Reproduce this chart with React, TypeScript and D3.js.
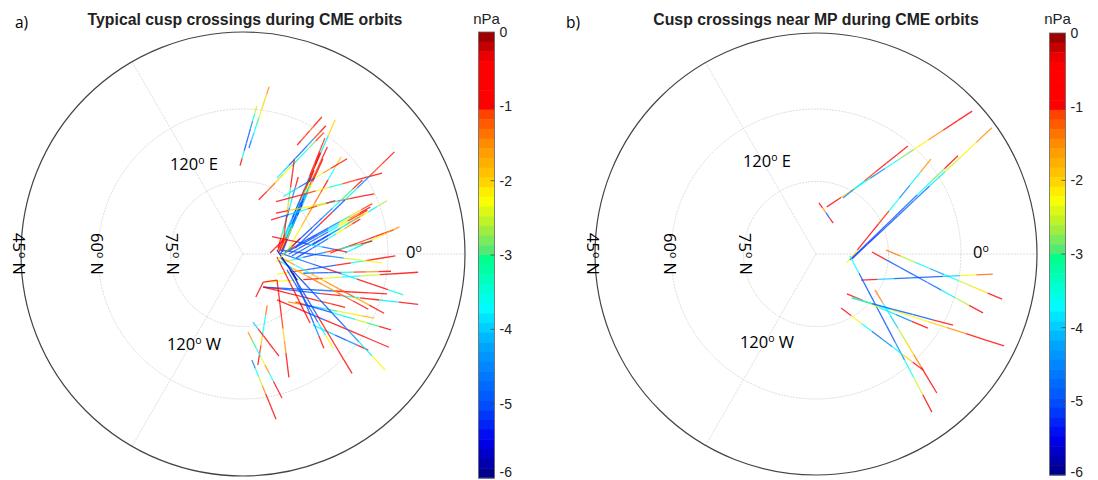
import * as d3 from 'd3'

// Tracks are in degrees of colatitude, projected: x toward 0 deg, y toward 90 deg E.
// Each row: x0, y0, x1, y1, then magnetic pressure change (nPa) read along the track.
type Track = [number, number, number, number, number[]]

const typicalTracks: Track[] = [
  [-0.6, 17.9, 2.8, 30.0, [-0.6, -3.5, -5, -5, -5, -4.5, -3.5, -2.5]],
  [1.2, 21.5, 5.3, 33.9, [-4.8, -4, -3.7, -3, -2.4, -2, -2, -1.5]],
  [11.0, 22.1, 16.0, 27.8, [-0.6, -1, -0.7, -1.2, -0.8, -0.5]],
  [6.9, 15.4, 16.8, 26.0, [-3.7, -4, -5, -5, -5, -4.5, -1, -0.6]],
  [3.2, 11.0, 16.4, 24.6, [-0.5, -1.2, -2, -2.3, -3.2, -3.7, -2.8, -1]],
  [7.7, 0.2, 13.2, 13.0, [-5, -5, -4, -5, -5.2, -4]],
  [7.3, 0.4, 16.6, 23.5, [-0.7, -3.8, -5, -3, -5, -4, -0.8, -0.6, -1]],
  [7.8, 0.6, 15.6, 20.5, [-2.5, -5, -4, -5, -3.7, -0.7, -2.8, -0.7]],
  [8.0, 0.4, 14.4, 17.0, [-5, -4.5, -5, -3.7, -5, -2.3, -0.8]],
  [7.1, 0.8, 18.7, 27.2, [-0.8, -4, -5, -1, -0.7, -0.6, -3.8, -2]],
  [7.5, 0.8, 17.1, 21.7, [-1, -3.5, -5, -5, -4, -1, -1, -0.6]],
  [7.9, 0.8, 16.2, 19.3, [-0.6, -2.5, -4, -5, -4, -2.5, -0.8, -0.6]],
  [7.1, 1.2, 11.2, 15.6, [-0.8, -3, -4, -4.8, -3.8, -4.5, -0.8]],
  [8.1, 2.2, 10.4, 19.1, [-1, -0.5, -2, -3, -0.8, -0.6]],
  [9.1, 0.8, 19.9, 19.7, [-2.3, -2.2, -1.8, -1.5, -1.3, -0.7, -3.7, -2]],
  [8.1, 11.6, 21.1, 19.3, [-3.7, -4, -5, -4.8, -2.3, -1.5, -0.7, -0.6]],
  [6.7, 10.6, 28.2, 16.4, [-0.6, -0.7, -1, -2.3, -3.5, -1, -0.7, -0.5]],
  [6.7, 8.3, 26.6, 12.2, [-0.6, -2, -2.3, -2.6, -3.7, -1, -0.6, -0.5]],
  [5.7, 6.9, 18.7, 10.8, [-0.7, -5, -4, -3.7, -1, -2, -0.8]],
  [10.6, 1.2, 30.7, 20.7, [-5, -5, -0.8, -5, -3.5, -4.5, -1, -0.7]],
  [8.1, -0.2, 24.2, 15.0, [-0.8, -5, -5.2, -5, -4.5, -3.7, -3, -0.8]],
  [8.5, 0.4, 26.2, 10.2, [-0.7, -5, -5.2, -5, -4.5, -3, -2, -1]],
  [8.9, 0.4, 25.8, 9.5, [-5, -5, -5, -4.5, -3.7, -2.4, -1.5, -0.8]],
  [9.3, 0.0, 25.2, 8.9, [-5, -5.2, -5, -5, -3.8, -2.3, -1, -0.7]],
  [9.9, -0.4, 24.6, 8.1, [-5, -5, -5.2, -4.6, -3.6, -2.6, -1.2, -0.7]],
  [10.8, -0.8, 23.8, 7.1, [-5.2, -5, -5, -4.8, -3.7, -2.2, -1.6, -0.8]],
  [14.0, 1.8, 29.2, 10.8, [-5, -5.2, -4.5, -3.7, -2.8, -2.3, -3.8, -2.6]],
  [17.7, 0.2, 30.5, 4.9, [-0.6, -0.8, -0.7, -1, -0.6, -0.7, -0.5]],
  [20.7, 0.2, 31.7, 5.5, [-3.7, -3.9, -3, -2.3, -2, -1.5]],
  [7.5, -1.8, 26.2, 2.6, [-2.5, -3.7, -5, -4.5, -1, -3.7, -3, -0.8]],
  [6.9, -4.1, 30.9, -0.4, [-2.3, -1, -5, -5, -0.8, -3.7, -0.8, -0.6]],
  [7.5, 0.8, 28.2, -1.8, [-5, -5, -5, -5, -4.5, -2.5, -2.3, -2.2]],
  [7.5, 0.2, 32.5, -8.3, [-5, -5, -5, -0.8, -3.8, -0.7, -0.8, -3.5]],
  [4.5, -5.7, 35.5, -3.7, [-2.3, -2.2, -0.7, -2.4, -3.7, -2.5, -0.8, -0.7]],
  [12.2, -3.9, 30.0, -3.5, [-5, -5, -4.8, -3.8, -1, -1.5, -0.8]],
  [4.1, -6.7, 35.5, -10.2, [-0.6, -5, -5, -0.8, -3.7, -0.8, -3.8, -0.7]],
  [4.1, -6.7, 29.2, -8.1, [-5, -5, -5, -4.8, -0.8, -0.7, -0.8]],
  [7.5, -0.6, 28.6, -12.0, [-1.5, -3.7, -1.8, -1.5, -1.2, -1.7, -0.7]],
  [6.9, -1.2, 25.4, -11.2, [-3.7, -1.8, -1.4, -1.6, -1.2, -0.6]],
  [4.1, -6.7, 20.7, -10.8, [-0.6, -0.7, -0.6, -0.8, -1, -0.7]],
  [9.1, -9.7, 26.6, -13.0, [-1.5, -5, -4, -3, -2.4, -2.1, -1.8]],
  [10.6, -9.7, 30.0, -15.4, [-1, -5, -5, -3.7, -3.8, -2.5, -3, -0.8]],
  [6.9, -9.3, 29.6, -18.9, [-0.6, -0.8, -5, -0.7, -0.6, -0.8, -0.7]],
  [14.2, -14.4, 25.4, -19.5, [-3.7, -4, -5, -4.5, -0.8]],
  [7.5, -0.6, 28.8, -23.5, [-5, -5.2, -5, -5, -5, -4.5, -3.8, -2.3]],
  [9.5, -3.2, 22.1, -24.2, [-5, -5, -5, -0.8, -0.6, -0.7, -0.5]],
  [8.9, -3.2, 18.3, -19.1, [-5, -5, -5, -4.8, -3.8, -2.3]],
  [10.2, -3.9, 16.4, -19.1, [-5, -5, -5, -5, -4.5, -0.7]],
  [6.9, -0.6, 13.6, -14.0, [-0.7, -0.6, -0.8, -0.6, -0.7]],
  [6.9, -5.3, 9.3, -25.0, [-0.6, -0.7, -0.6, -1, -2, -1.5, -0.7, -0.6]],
  [4.9, -10.4, 3.0, -22.5, [-1.3, -3.5, -3.7, -2, -1, -0.7]],
  [2.0, -13.8, 7.3, -20.7, [-4, -0.8, -0.7, -0.8, -0.6]],
  [1.0, -15.8, 7.9, -29.2, [-1.5, -3, -3.7, -2.2, -1.5, -3.7, -0.8, -0.6]],
  [1.8, -21.5, 6.7, -33.5, [-4.5, -3.7, -2.5, -1.5, -0.8, -0.7, -0.5]],
  [4.1, -5.7, 2.6, -8.7, [-0.5, -0.7, -0.6]],
  [4.1, -5.7, 6.9, -5.3, [-0.6, -0.7]],
  [5.9, 3.5, 21.1, 0.4, [-0.7, -0.8, -5, -3.8, -4.8, -0.8]],
  [6.9, 0.8, 11.0, -5.3, [-5.8, -5.7, -5.9]],
  [8.1, 2.8, 5.5, 0.2, [-0.6, -0.7, -0.5]],
  [6.7, -1.6, 11.6, 3.2, [-2.3, -3, -0.8]],
]

const nearMpTracks: Track[] = [
  [2.2, 9.6, 31.8, 29.1, [-0.7, -2, -3.7, -4.5, -3.7, -2.8, -2.2, -1.5, -0.9, -0.7]],
  [5.5, 11.4, 18.7, 22.0, [-4.5, -3.8, -1, -0.7, -0.8, -0.6]],
  [0.6, 10.4, 3.5, 6.3, [-0.7, -1.5, -5, -0.7]],
  [6.3, -1.8, 23.4, 19.3, [-2.2, -0.8, -0.7, -1, -3.7, -4.5, -3.8, -1.5]],
  [6.9, -1.2, 28.9, 20.0, [-5, -5, -5, -5, -4.8, -3.7, -2.8, -0.8]],
  [7.3, -1.0, 35.8, 25.7, [-5.2, -5.2, -5, -5, -4.8, -3.8, -2.5, -2.2, -1.5]],
  [11.4, 0.4, 34.0, -12.0, [-0.7, -5, -5, -4.8, -4.8, -3.8, -2.6, -0.8]],
  [14.3, 0.8, 37.9, -9.2, [-1.4, -2.6, -3.6, -4.3, -3.7, -2.5, -2.1, -0.8]],
  [9.2, -5.3, 36.0, -4.1, [-0.8, -4, -5, -5, -5, -4, -2.2, -1.3]],
  [6.9, -0.4, 23.6, -32.2, [-3.7, -5, -5, -5, -5, -4.5, -3.7, -2.5, -0.8]],
  [12.0, -7.3, 24.6, -28.3, [-1.4, -3.7, -4, -2.6, -2, -1.4, -0.8, -0.6]],
  [6.3, -8.1, 22.8, -15.1, [-0.7, -2.2, -3.8, -4.5, -0.7]],
  [7.3, -8.8, 38.3, -18.7, [-2.8, -3.7, -2.4, -2.2, -2, -1.5, -0.8, -0.6]],
  [7.3, -9.0, 27.9, -14.5, [-3.8, -5, -5, -5, -0.8]],
  [5.1, -11.0, 21.8, -23.6, [-0.7, -2.2, -3.7, -4.8, -4.5, -3.7, -2, -0.7]],
]

const latitudeRings = [75, 60, 45]
const spokeLongitudes = [0, 120, -120]
const colorTicks = [0, -1, -2, -3, -4, -5, -6]

const jetDomain = [0, -0.4, -0.98, -1, -1.5, -2, -2.25, -2.6, -2.95, -3.05, -3.7, -4.2, -5, -5.5, -6]
const jetColors = [
  '#8b0000', '#ff0000', '#ff0000', '#ff3000', '#ff8c00', '#ffd000', '#ffff00', '#b4f030',
  '#50e878', '#00ff88', '#00ffff', '#00a8ff', '#0050ff', '#0000f0', '#000080',
]
const color = d3.scaleLinear<string>().domain(jetDomain).range(jetColors)

const labelFont = '"Open Sans", sans-serif'
const sansFont = '"Liberation Sans", Arial, sans-serif'
const colorSteps = d3.range(46)

function Degree({ x, y, label, suffix }: { x: number; y: number; label: string; suffix: string }) {
  return (
    <text x={x} y={y} fontFamily={labelFont} fontSize={16.5} fill="#000" textAnchor="middle" dominantBaseline="middle">
      {label}
      <tspan fontSize={10.5} dy={-5}>o</tspan>
      <tspan dy={5}>{suffix}</tspan>
    </text>
  )
}

type PanelProps = {
  letter: string
  letterX: number
  title: string
  titleX: number
  tracks: Track[]
  cx: number
  cy: number
  radius: number
  barX: number
  barTop: number
  barBottom: number
  eastLabelY: number
  westLabelY: number
  zeroX: number
}

function Panel(p: PanelProps) {
  const xScale = d3.scaleLinear().domain([-45, 45]).range([p.cx - p.radius, p.cx + p.radius])
  const yScale = d3.scaleLinear().domain([-45, 45]).range([p.cy + p.radius, p.cy - p.radius])
  const ringRadius = d3.scaleLinear().domain([90, 60, 45]).range([0, 145, p.radius])
  const barY = d3.scaleLinear().domain([0, -6]).range([p.barTop, p.barBottom])
  const barWidth = 16
  const stepValue = d3.scaleLinear().domain([0, colorSteps.length]).range([0, -6])

  return (
    <g>
      <text x={p.letterX} y={28} fontFamily={labelFont} fontSize={15.5}>{p.letter}</text>
      <text x={p.titleX} y={25} fontFamily={sansFont} fontWeight="bold" fontSize={15.8} fill="#222" textAnchor="middle">
        {p.title}
      </text>

      {spokeLongitudes.map((lon) => {
        const a = (lon * Math.PI) / 180
        return (
          <line
            key={lon}
            x1={p.cx}
            y1={p.cy}
            x2={p.cx + p.radius * Math.cos(a)}
            y2={p.cy - p.radius * Math.sin(a)}
            stroke="#dadada"
            strokeWidth={0.9}
            strokeDasharray="2 1"
          />
        )
      })}
      {latitudeRings.map((lat) => (
        <circle
          key={lat}
          cx={p.cx}
          cy={p.cy}
          r={ringRadius(lat)}
          fill="none"
          stroke={lat === 45 ? '#444' : '#d8d8d8'}
          strokeWidth={lat === 45 ? 1.2 : 0.9}
          strokeDasharray={lat === 45 ? undefined : '2 1'}
        />
      ))}

      {p.tracks.map(([x0, y0, x1, y1, values], i) => {
        const along = d3.scaleLinear().domain([0, values.length])
        const xAt = along.copy().range([xScale(x0), xScale(x1)])
        const yAt = along.copy().range([yScale(y0), yScale(y1)])
        return (
          <g key={i} strokeWidth={1.3} opacity={0.8}>
            {values.map((v, j) => (
              <line key={j} x1={xAt(j)} y1={yAt(j)} x2={xAt(j + 1)} y2={yAt(j + 1)} stroke={color(v)} />
            ))}
          </g>
        )
      })}

      <Degree x={p.cx - 49} y={p.eastLabelY} label="120" suffix=" E" />
      <Degree x={p.cx - 49} y={p.westLabelY} label="120" suffix=" W" />
      <Degree x={p.zeroX} y={p.cy} label="0" suffix="" />
      {latitudeRings.map((lat) => {
        const x = p.cx - ringRadius(lat) + (lat === 45 ? -4 : lat === 60 ? -3 : 0)
        return (
          <g key={lat} transform={`translate(${x},${p.cy}) rotate(90)`}>
            <Degree x={0} y={0} label={String(lat)} suffix=" N" />
          </g>
        )
      })}

      {colorSteps.map((s) => (
        <rect
          key={s}
          x={p.barX}
          y={barY(stepValue(s))}
          width={barWidth}
          height={barY(stepValue(s + 1)) - barY(stepValue(s)) + 0.5}
          fill={color(stepValue(s + 0.5))}
        />
      ))}
      <rect
        x={p.barX}
        y={p.barTop}
        width={barWidth}
        height={p.barBottom - p.barTop}
        fill="none"
        stroke="#666"
        strokeWidth={0.8}
      />
      <text x={p.barX + 8} y={24} fontFamily={sansFont} fontSize={15} fill="#222" textAnchor="middle">nPa</text>
      {colorTicks.map((t) => (
        <g key={t}>
          {t !== 0 && t !== -6 && (
            <line
              x1={p.barX + barWidth - 4}
              x2={p.barX + barWidth}
              y1={barY(t)}
              y2={barY(t)}
              stroke="#444"
              strokeWidth={0.8}
            />
          )}
          <text
            x={p.barX + barWidth + 5}
            y={Math.min(barY(t) + 5, 476.5)}
            fontFamily={sansFont}
            fontSize={14}
            fill="#222"
          >
            {t === 0 ? '0' : String(t)}
          </text>
        </g>
      ))}
    </g>
  )
}

export default function App() {
  return (
    <svg
      width={1098}
      height={480}
      viewBox="0 0 1098 480"
      style={{ position: 'absolute', left: 0, top: 0, background: '#fff' }}
    >
      <Panel
        letter="a)"
        letterX={15}
        title="Typical cusp crossings during CME orbits"
        titleX={245}
        tracks={typicalTracks}
        cx={243}
        cy={254}
        radius={222}
        barX={478.5}
        barTop={32}
        barBottom={478}
        eastLabelY={166}
        westLabelY={346}
        zeroX={414}
      />
      <Panel
        letter="b)"
        letterX={566}
        title="Cusp crossings near MP during CME orbits"
        titleX={816}
        tracks={nearMpTracks}
        cx={816}
        cy={254}
        radius={221}
        barX={1049.5}
        barTop={33}
        barBottom={475}
        eastLabelY={163}
        westLabelY={344}
        zeroX={981}
      />
    </svg>
  )
}
